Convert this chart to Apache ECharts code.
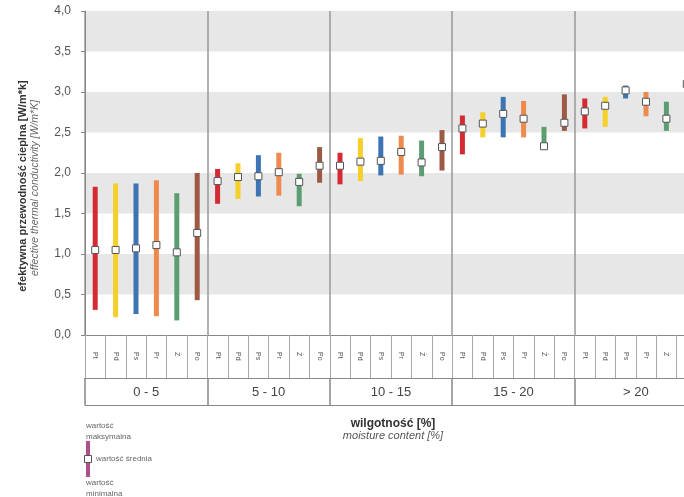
<!DOCTYPE html>
<html>
<head>
<meta charset="utf-8">
<script src="https://cdn.jsdelivr.net/npm/echarts@6/dist/echarts.min.js"></script>
<style>
  html, body { margin: 0; padding: 0; background: #fff; overflow: hidden; }
  #chart { width: 830px; height: 497px; }
</style>
</head>
<body>
<div id="chart"></div>
<script>
// moisture ranges and materials
const groups = ['0 - 5', '5 - 10', '10 - 15', '15 - 20', '> 20']
const materials = ['Pt', 'Pd', 'Ps', 'Pr', 'Ż', 'Po']
const colors = ['#d42a32', '#f5cf2a', '#3d74b4', '#ee8a4e', '#5c9e72', '#9c5a45']

// values per group, in material order
const maxVals = [
  [1.83, 1.87, 1.87, 1.91, 1.75, 2.00],
  [2.05, 2.12, 2.22, 2.25, 1.99, 2.32],
  [2.25, 2.43, 2.45, 2.46, 2.40, 2.53],
  [2.71, 2.75, 2.94, 2.89, 2.57, 2.97],
  [2.92, 2.94, 3.08, 3.00, 2.88, 3.35]
]
const meanVals = [
  [1.05, 1.05, 1.07, 1.11, 1.02, 1.26],
  [1.90, 1.95, 1.96, 2.01, 1.89, 2.09],
  [2.09, 2.14, 2.15, 2.26, 2.13, 2.32],
  [2.55, 2.61, 2.73, 2.67, 2.33, 2.62],
  [2.76, 2.83, 3.02, 2.88, 2.67, 3.10]
]
const minVals = [
  [0.31, 0.22, 0.26, 0.23, 0.18, 0.43],
  [1.62, 1.68, 1.71, 1.72, 1.59, 1.88],
  [1.86, 1.90, 1.97, 1.98, 1.96, 2.03],
  [2.23, 2.44, 2.44, 2.44, 2.30, 2.52],
  [2.55, 2.57, 2.92, 2.70, 2.52, 2.90]
]

const font = "'Liberation Sans', Arial, sans-serif"

const catLabels = []
groups.forEach(() => materials.forEach(m => catLabels.push(m)))

const seriesData = []
groups.forEach((g, gi) => {
  materials.forEach((m, mi) => {
    seriesData.push([gi * materials.length + mi, minVals[gi][mi], maxVals[gi][mi], meanVals[gi][mi], mi])
  })
})

const chart = echarts.init(document.getElementById('chart'))

const option = {
  animation: false,
  grid: { left: 85, top: 11, width: 612, height: 324 },
  xAxis: [
    {
      type: 'category',
      data: catLabels,
      position: 'bottom',
      axisLine: { lineStyle: { color: '#888', width: 1 } },
      axisTick: { show: true, length: 43, interval: 0, lineStyle: { color: '#aaa' } },
      axisLabel: { interval: 0, rotate: -90, margin: 17, fontSize: 7, color: '#555', fontFamily: font },
      splitLine: { show: false }
    },
    {
      type: 'category',
      data: groups,
      position: 'bottom',
      offset: 43,
      axisLine: { lineStyle: { color: '#888', width: 1 } },
      axisTick: { show: true, length: 27, interval: 0, lineStyle: { color: '#888', width: 1.5 } },
      axisLabel: { interval: 0, margin: 8, fontSize: 13, color: '#444', fontFamily: font },
      splitLine: { show: true, interval: 0, lineStyle: { color: '#999', width: 1.5 } }
    },
    {
      type: 'category',
      data: groups,
      position: 'bottom',
      offset: 70,
      axisLine: { lineStyle: { color: '#888', width: 1 } },
      axisTick: { show: false },
      axisLabel: { show: false }
    }
  ],
  yAxis: {
    type: 'value',
    min: 0,
    max: 4,
    interval: 0.5,
    axisLine: { show: true, lineStyle: { color: '#888' } },
    axisTick: { show: true, length: 4, lineStyle: { color: '#888' } },
    axisLabel: {
      margin: 14,
      fontSize: 12,
      color: '#555',
      fontFamily: font,
      formatter: v => v.toFixed(1).replace('.', ',')
    },
    splitLine: { show: false },
    splitArea: { show: true, areaStyle: { color: ['#ffffff', '#e7e7e7'] } }
  },
  series: [
    {
      type: 'custom',
      xAxisIndex: 0,
      data: seriesData,
      renderItem: (params, api) => {
        const x = api.value(0)
        const lo = api.coord([x, api.value(1)])
        const hi = api.coord([x, api.value(2)])
        const mid = api.coord([x, api.value(3)])
        const w = 5
        return {
          type: 'group',
          children: [
            {
              type: 'rect',
              shape: { x: lo[0] - w / 2, y: hi[1], width: w, height: lo[1] - hi[1] },
              style: { fill: colors[api.value(4)] }
            },
            {
              type: 'rect',
              shape: { x: mid[0] - 3.5, y: mid[1] - 3.5, width: 7, height: 7 },
              style: { fill: '#fff', stroke: '#555', lineWidth: 1 }
            }
          ]
        }
      }
    }
  ],
  graphic: [
    // y axis name
    {
      type: 'text', x: 23, y: 186, rotation: Math.PI / 2,
      style: { text: 'efektywna przewodność cieplna [W/m*k]', font: 'bold 11px ' + font, fill: '#333', align: 'center', verticalAlign: 'middle' }
    },
    {
      type: 'text', x: 35, y: 188, rotation: Math.PI / 2,
      style: { text: 'effective thermal conductivity [W/m*K]', font: 'italic 10.5px ' + font, fill: '#666', align: 'center', verticalAlign: 'middle' }
    },
    // x axis name
    {
      type: 'text', x: 393, y: 424,
      style: { text: 'wilgotność [%]', font: 'bold 12px ' + font, fill: '#333', align: 'center', verticalAlign: 'middle' }
    },
    {
      type: 'text', x: 393, y: 436,
      style: { text: 'moisture content [%]', font: 'italic 11px ' + font, fill: '#555', align: 'center', verticalAlign: 'middle' }
    },
    // key
    {
      type: 'text', x: 86, y: 420,
      style: { text: 'wartość\nmaksymalna', font: '8px ' + font, fill: '#666', lineHeight: 11 }
    },
    {
      type: 'rect', shape: { x: 86, y: 441, width: 4, height: 36 },
      style: { fill: '#b0508a' }
    },
    {
      type: 'rect', shape: { x: 84.5, y: 455.5, width: 7, height: 7 },
      style: { fill: '#fff', stroke: '#555', lineWidth: 1 }
    },
    {
      type: 'text', x: 96, y: 459,
      style: { text: 'wartość średnia', font: '8px ' + font, fill: '#666', verticalAlign: 'middle' }
    },
    {
      type: 'text', x: 86, y: 477,
      style: { text: 'wartość\nminimalna', font: '8px ' + font, fill: '#666', lineHeight: 11 }
    }
  ]
}

chart.setOption(option)
</script>
</body>
</html>
